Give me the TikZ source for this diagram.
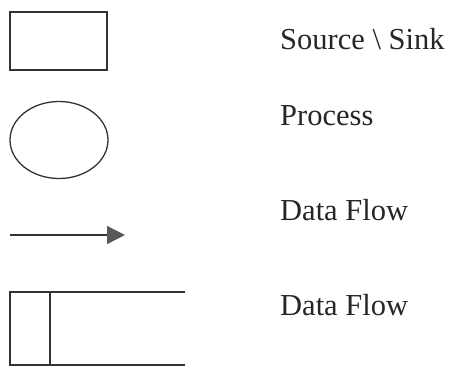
\documentclass[tikz,border=0pt]{standalone}
\usepackage{fontspec}
\setmainfont{Liberation Serif}
\usetikzlibrary{shapes.geometric,arrows.meta}
\begin{document}
\begin{tikzpicture}[x=1pt,y=-1pt,
  shape line/.style={draw=black!80,line width=1.3pt},
  legend text/.style={anchor=base west,inner sep=0pt,text=black!85,font=\fontsize{30.5}{34}\selectfont}]
\useasboundingbox (0,0) rectangle (452,367);
% source / sink
\node[shape line,rectangle,minimum width=97pt,minimum height=58pt,inner sep=0pt] (src) at (58.5,41) {};
% process
\node[shape line,ellipse,minimum width=98pt,minimum height=77pt,inner sep=0pt] (proc) at (59,140) {};
% data flow arrow
\coordinate (fa) at (10,235);
\coordinate (fb) at (125,235);
\draw[shape line,-{Triangle[length=18pt,width=18pt,fill=black!65,color=black!65]}] (fa) -- (fb);
% data store
\coordinate (ds1) at (10,292);
\coordinate (ds2) at (10,365);
\coordinate (ds3) at (50,292);
\coordinate (ds4) at (50,365);
\coordinate (ds5) at (185,292);
\coordinate (ds6) at (185,365);
\draw[shape line] (ds5) -- (ds1) -- (ds2) -- (ds6);
\draw[shape line] (ds3) -- (ds4);
% labels
\node[legend text] (t1) at (280,49) {Source \textbackslash{} Sink};
\node[legend text] (t2) at (280,125) {Process};
\node[legend text] (t3) at (280,220) {Data Flow};
\node[legend text] (t4) at (280,315) {Data Flow};
\end{tikzpicture}
\end{document}
